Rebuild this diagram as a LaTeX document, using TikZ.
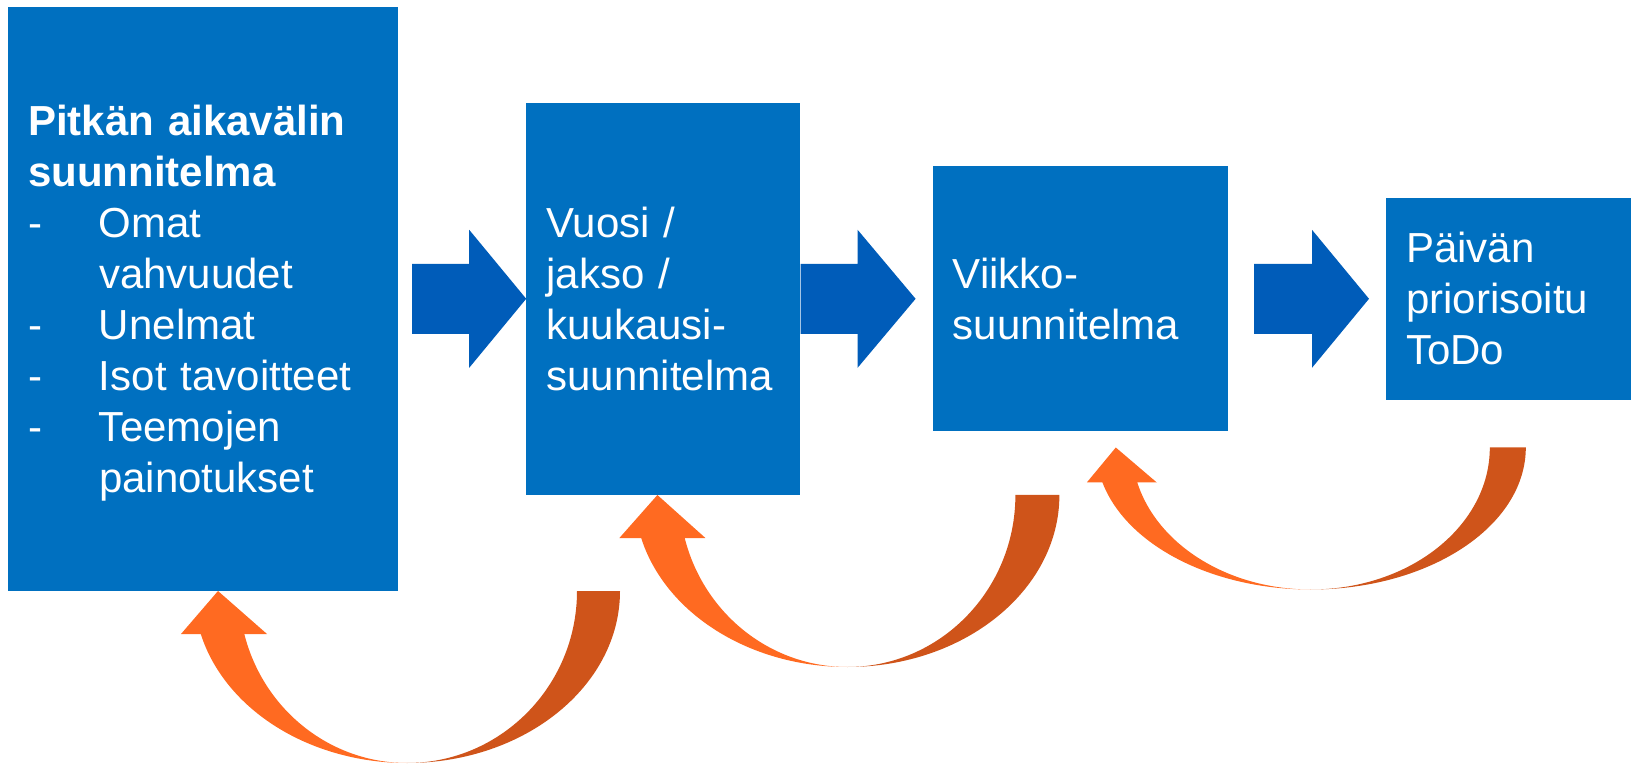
\documentclass[tikz,border=0pt]{standalone}
\usepackage{fontspec}
\setmainfont{Liberation Sans}
\usepackage{xcolor}
\usepackage{tikz}
\usetikzlibrary{positioning, calc}
\definecolor{planblue}{HTML}{0070C0}
\definecolor{arrowblue}{HTML}{005CB9}
\definecolor{backorange}{HTML}{FF6A21}
\definecolor{backbrown}{HTML}{CF541A}

\begin{document}
\begin{tikzpicture}[x=1pt, y=1pt, planbox/.style={rectangle, fill=planblue, draw=none, inner xsep=20pt, inner ysep=0pt, align=left, text=white, font=\fontsize{42}{51}\selectfont}, flowarrow/.style={fill=arrowblue, draw=none}, backlight/.style={fill=backorange, draw=none}, backdark/.style={fill=backbrown, draw=none}]

    \useasboundingbox (0,0) rectangle (1631,764);

    %Nodes
    \node[planbox, text width=350pt, minimum height=584pt, text height=30pt, text depth=357pt](longterm) at (203,465.2){\textbf{Pitkän aikavälin}\\ \textbf{suunnitelma}\\ \makebox[71pt][l]{-}Omat\\ \hspace*{71pt}vahvuudet\\ \makebox[71pt][l]{-}Unelmat\\ \makebox[71pt][l]{-}Isot tavoitteet\\ \makebox[71pt][l]{-}Teemojen\\ \hspace*{71pt}painotukset};
    \node[planbox, text width=234pt, minimum height=392pt](yearly)[right=128pt of longterm]{Vuosi /\\ jakso /\\ kuukausi-\\ suunnitelma};
    \node[planbox, text width=255pt, minimum height=265pt](weekly)[right=132pt of yearly]{Viikko-\\ suunnitelma};
    \node[planbox, text width=206pt, minimum height=202pt](daily)[right=158pt of weekly]{Päivän\\ priorisoitu\\ ToDo};
    \coordinate (retA) at ($(longterm.south)+(204,0)$);
    \coordinate (retB) at ($(yearly.south)+(184,0)$);
    \coordinate (retC) at ($(weekly.south)+(230.5,-16)$);

    %Lines
    \fill[flowarrow] ($(longterm.east)+(14,35)$) -- ($(yearly.west)+(-57,35)$) -- ($(yearly.west)+(-57,69)$) -- (yearly.west) -- ($(yearly.west)+(-57,-69)$) -- ($(yearly.west)+(-57,-35)$) -- ($(longterm.east)+(14,-35)$) -- cycle;
    \fill[flowarrow] ($(yearly.east)+(0,35)$) -- ($(weekly.west)+(-75,35)$) -- ($(weekly.west)+(-75,69)$) -- ($(weekly.west)+(-17,0)$) -- ($(weekly.west)+(-75,-69)$) -- ($(weekly.west)+(-75,-35)$) -- ($(yearly.east)+(0,-35)$) -- cycle;
    \fill[flowarrow] ($(weekly.east)+(26,35)$) -- ($(daily.west)+(-74,35)$) -- ($(daily.west)+(-74,69)$) -- ($(daily.west)+(-17,0)$) -- ($(daily.west)+(-74,-69)$) -- ($(daily.west)+(-74,-35)$) -- ($(weekly.east)+(26,-35)$) -- cycle;

    %Back arrows
    \fill[backdark, shift={(retA)}] (170,0) -- (213,0) arc[start angle=0, end angle=-90, x radius=213, y radius=172] arc[start angle=-90, end angle=0, x radius=170, y radius=172] -- cycle;
    \fill[backlight, shift={(retA)}] (0,-172) arc[start angle=270, end angle=194.48, x radius=213, y radius=172] -- (-226,-43) -- (-189,0) -- (-140,-43) -- (-162.7,-43) arc[start angle=194.48, end angle=270, x radius=168, y radius=172] -- cycle;
    \fill[backdark, shift={(retB)}] (168,0) -- (212,0) arc[start angle=0, end angle=-90, x radius=212, y radius=172] arc[start angle=-90, end angle=0, x radius=168, y radius=172] -- cycle;
    \fill[backlight, shift={(retB)}] (0,-172) arc[start angle=270, end angle=194.48, x radius=213, y radius=172] -- (-228,-43) -- (-190,0) -- (-142,-43) -- (-162.7,-43) arc[start angle=194.48, end angle=270, x radius=168, y radius=172] -- cycle;
    \fill[backdark, shift={(retC)}] (179,0) -- (215,0) arc[start angle=0, end angle=-90, x radius=215, y radius=142] arc[start angle=-90, end angle=0, x radius=179, y radius=142] -- cycle;
    \fill[backlight, shift={(retC)}] (0,-142) arc[start angle=270, end angle=194.27, x radius=215, y radius=142] -- (-224,-35) -- (-195,0) -- (-154,-35) -- (-173.5,-35) arc[start angle=194.27, end angle=270, x radius=179, y radius=142] -- cycle;

\end{tikzpicture}
\end{document}
